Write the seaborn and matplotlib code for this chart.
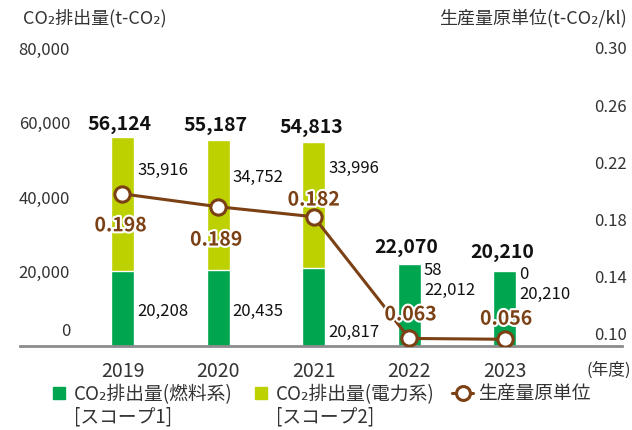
import numpy as np
import pandas as pd
import matplotlib.pyplot as plt
import matplotlib.patheffects as pe
import matplotlib.transforms as mtransforms
from matplotlib.lines import Line2D
import seaborn as sns

years = ["2019", "2020", "2021", "2022", "2023"]
fuel = [20208, 20435, 20817, 22012, 20210]      # scope 1
power = [35916, 34752, 33996, 58, 0]            # scope 2
intensity = [0.198, 0.189, 0.182, 0.063, 0.056]
left_ticks = [0, 20000, 40000, 60000, 80000]
right_ticks = [0.10, 0.14, 0.18, 0.22, 0.26, 0.30]

legend_labels = ["CO₂排出量(燃料系)", "CO₂排出量(電力系)", "生産量原単位"]
legend_sub = ["[スコープ1]", "[スコープ2]"]

GREEN = "#00a54f"
LIME = "#bdd000"
BROWN = "#7b4014"
INK = "#111111"
GREY = "#333333"

df = pd.DataFrame({"year": years, "fuel": fuel, "power": power})
df["total"] = df["fuel"] + df["power"]

sns.set_style("white")
plt.rcParams["font.family"] = ["Noto Sans CJK JP", "DejaVu Sans"]

fig = plt.figure(figsize=(6.32, 4.30), dpi=100)
ax = fig.add_axes([20 / 632, 84 / 430, 602 / 632, 298 / 430])

# stacked look: total (lime) behind, fuel (green) in front
sns.barplot(data=df, x="year", y="total", color=LIME, width=0.24, saturation=1, ax=ax)
sns.barplot(data=df, x="year", y="fuel", color=GREEN, width=0.24, saturation=1,
            edgecolor="white", linewidth=1.0, ax=ax)

ax.set_xlim(-1.072, 5.225)
ax.set_ylim(0, 80000)
ax.set_xlabel("")
ax.set_ylabel("")
for s in ["top", "left", "right"]:
    ax.spines[s].set_visible(False)
ax.spines["bottom"].set_color("#8c8c8c")
ax.spines["bottom"].set_linewidth(2)

ax.set_yticks(left_ticks)
ax.set_yticklabels([f"{v:,}" for v in left_ticks])
ax.tick_params(axis="y", length=0, pad=-36, labelsize=12, labelcolor=GREY)
ax.tick_params(axis="x", length=0, pad=11, labelsize=14, labelcolor=GREY)
for lbl in ax.get_yticklabels():
    if lbl.get_text() == "0":
        lbl.set_transform(lbl.get_transform() + mtransforms.ScaledTranslation(0, 0.16, fig.dpi_scale_trans))

# bar labels (offsets in points)
tot_dy = [9, 11, 10, 12, 13]
pow_dy = [-24, -27, -19, -5, -3]
fuel_dy = [-29, -30, -46, -19, -17]
for i in range(len(years)):
    ax.annotate(f"{df.total[i]:,}", (i, df.total[i]), xytext=(-2, tot_dy[i]), textcoords="offset points",
                ha="center", va="center", fontsize=14, fontweight="bold", color=INK)
    ax.annotate(f"{power[i]:,}", (i, df.total[i]), xytext=(10.5, pow_dy[i]), textcoords="offset points",
                ha="left", va="center", fontsize=12, color=INK)
    ax.annotate(f"{fuel[i]:,}", (i, fuel[i]), xytext=(10.5, fuel_dy[i]), textcoords="offset points",
                ha="left", va="center", fontsize=12, color=INK)

# right axis: compressed below 0.10 like the original
BREAK, LOW, HIGH = 0.10, 120.0, 1430.0


def fwd(v):
    v = np.asarray(v, dtype=float)
    return np.where(v < BREAK, v * LOW, BREAK * LOW + (v - BREAK) * HIGH)


def inv(u):
    u = np.asarray(u, dtype=float)
    return np.where(u < BREAK * LOW, u / LOW, BREAK + (u - BREAK * LOW) / HIGH)


ax2 = ax.twinx()
ax2.set_yscale("function", functions=(fwd, inv))
sns.lineplot(x=np.arange(len(years)), y=intensity, ax=ax2, color=BROWN, lw=2.2,
             marker="o", ms=11, mfc="white", mec=BROWN, mew=2.2)
ax2.set_ylim(0, 0.30)
ax2.set_xlim(-1.072, 5.225)
ax2.set_ylabel("")
for s in ax2.spines.values():
    s.set_visible(False)
ax2.set_yticks(right_ticks)
ax2.set_yticklabels([f"{v:.2f}" for v in right_ticks], ha="right")
ax2.tick_params(axis="y", length=0, pad=3.6, labelsize=12, labelcolor=GREY)
ax2.minorticks_off()

line_off = [(-1.4, -23), (-1.4, -24), (0, 12), (1, 17), (1, 14.5)]
for i, v in enumerate(intensity):
    ax2.annotate(f"{v:.3f}", (i, v), xytext=line_off[i], textcoords="offset points",
                 ha="center", va="center", fontsize=14, fontweight="bold", color=BROWN,
                 path_effects=[pe.withStroke(linewidth=3, foreground="white")])

fig.text(23 / 632, 1 - 18 / 430, "CO₂排出量(t-CO₂)", ha="left", va="center", fontsize=13, color=GREY)
fig.text(627 / 632, 1 - 18 / 430, "生産量原単位(t-CO₂/kl)", ha="right", va="center", fontsize=13, color=GREY)
fig.text(609 / 632, 1 - 370 / 430, "(年度)", ha="center", va="center", fontsize=12, color=GREY)

handles = [
    Line2D([], [], ls="none", marker="s", ms=8.6, color=GREEN),
    Line2D([], [], ls="none", marker="s", ms=8.6, color=LIME),
    Line2D([], [], color=BROWN, lw=2.2, marker="o", ms=10, mfc="white", mec=BROWN, mew=2.2),
]
leg = fig.legend(handles, legend_labels, ncol=3, loc="upper left", bbox_to_anchor=(48 / 632, 1 - 384 / 430),
                 frameon=False, fontsize=13.5, handlelength=1.15, handletextpad=0.25, columnspacing=0.9,
                 borderpad=0, borderaxespad=0, labelcolor=GREY)

# second line of the scope labels, under the first legend line
fig.canvas.draw()
W, H = fig.bbox.width, fig.bbox.height
for t, sub in zip(leg.get_texts(), legend_sub):
    bb = t.get_window_extent()
    fig.text(bb.x0 / W, ((bb.y0 + bb.y1) / 2 - 23) / H, sub, ha="left", va="center",
             fontsize=13.5, color=GREY)

fig.savefig("out.png", dpi=100)
